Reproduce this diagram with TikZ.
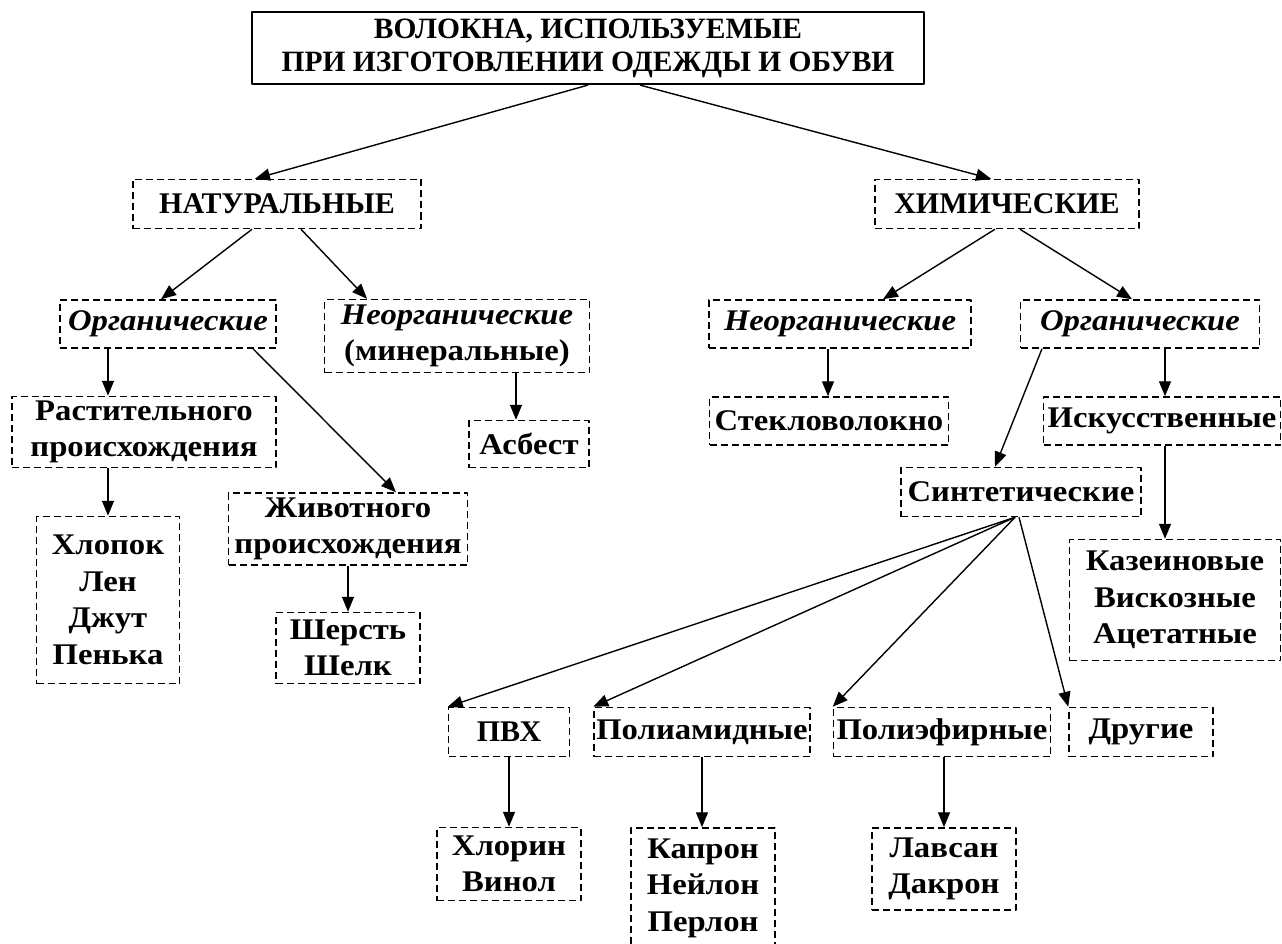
\documentclass[tikz,border=0pt]{standalone}
\usepackage{fontspec}
\setmainfont{Liberation Serif}
\newfontfamily\wideserif[FakeStretch=1.09]{Liberation Serif}
\usetikzlibrary{arrows.meta}
\tikzset{
	box/.style={draw, line width=1.5pt, dash pattern=on 7pt off 4pt, inner sep=2pt, align=center},
	capsbox/.style={box, font=\fontsize{30}{34}\selectfont\bfseries},
	titlebox/.style={draw, line width=2.2pt, inner sep=2pt, align=center, font=\fontsize{29.5}{33}\selectfont\bfseries},
	link/.style={->, line width=1.4pt},
}
\begin{document}
\begin{tikzpicture}[x=1pt, y=-1pt, font=\fontsize{30}{36.5}\selectfont\bfseries\wideserif, line join=round, >={Triangle[length=15pt,width=12pt]}]
			\useasboundingbox (0,0) rectangle (1282,944);
			% top
			\node[titlebox, minimum width=672, minimum height=72] (title) at (588,48) {ВОЛОКНА, ИСПОЛЬЗУЕМЫЕ\\ПРИ ИЗГОТОВЛЕНИИ ОДЕЖДЫ И ОБУВИ};
			\node[capsbox, minimum width=288, minimum height=49] (nat) at (277,204) {НАТУРАЛЬНЫЕ};
			\node[capsbox, minimum width=264, minimum height=49] (chem) at (1007,204) {ХИМИЧЕСКИЕ};
			% natural branch
			\node[box, minimum width=216, minimum height=48] (orgL) at (168,324) {\itshape Органические};
			\node[box, minimum width=265, minimum height=73] (inorgL) at (457,336) {\textit{Неорганические}\\(минеральные)};
			\node[box, minimum width=264, minimum height=71] (rast) at (144,432) {Растительного\\происхождения};
			\node[box, minimum width=120, minimum height=47] (asb) at (529,444) {Асбест};
			\node[box, minimum width=239, minimum height=72] (zhiv) at (348,529) {Животного\\происхождения};
			\node[box, minimum width=143, minimum height=167] (khlop) at (108,600) {Хлопок\\Лен\\Джут\\Пенька};
			\node[box, minimum width=144, minimum height=71] (sher) at (348,648) {Шерсть\\Шелк};
			% chemical branch
			\node[box, minimum width=262, minimum height=48] (inorgR) at (840,324) {\itshape Неорганические};
			\node[box, minimum width=239, minimum height=48] (orgR) at (1140,324) {\itshape Органические};
			\node[box, minimum width=239, minimum height=48] (stek) at (829,421) {Стекловолокно};
			\node[box, minimum width=237, minimum height=48] (isk) at (1162,421) {Искусственные};
			\node[box, minimum width=240, minimum height=49] (sint) at (1021,492) {Синтетические};
			\node[box, minimum width=211, minimum height=121] (kaz) at (1175,600) {Казеиновые\\Вискозные\\Ацетатные};
			% synthetic
			\node[capsbox, minimum width=121, minimum height=49] (pvh) at (509,732) {ПВХ};
			\node[box, minimum width=216, minimum height=49] (pam) at (702,732) {Полиамидные};
			\node[box, minimum width=217, minimum height=49] (pef) at (942,732) {Полиэфирные};
			\node[box, minimum width=144, minimum height=49] (drug) at (1141,732) {Другие};
			\node[box, minimum width=144, minimum height=73] (khlor) at (509,864) {Хлорин\\Винол};
			\node[box, minimum width=144, minimum height=120] (kap) at (703,888) {Капрон\\Нейлон\\Перлон};
			\node[box, minimum width=144, minimum height=82] (lav) at (944,869) {Лавсан\\Дакрон};
			% links
			\draw[link] (title.south) -- ([xshift=-22pt]nat.north);
			\draw[link] ([xshift=52pt]title.south) -- ([xshift=-16pt]chem.north);
			\draw[link] ([xshift=-25pt]nat.south) -- ([xshift=-7pt]orgL.north);
			\draw[link] ([xshift=24pt]nat.south) -- ([xshift=-90pt]inorgL.north);
			\draw[link] ([xshift=-12pt]chem.south) -- ([xshift=43pt]inorgR.north);
			\draw[link] ([xshift=13pt]chem.south) -- ([xshift=-8pt]orgR.north);
			\draw[link] ([xshift=-60pt]orgL.south) -- ([xshift=-36pt]rast.north);
			\draw[link] ([xshift=85pt]orgL.south) -- ([xshift=48pt]zhiv.north);
			\draw[link] ([xshift=59pt]inorgL.south) -- ([xshift=-13pt]asb.north);
			\draw[link] ([xshift=-36pt]rast.south) -- (khlop.north);
			\draw[link] (zhiv.south) -- (sher.north);
			\draw[link] ([xshift=-12pt]inorgR.south) -- ([xshift=-1pt]stek.north);
			\draw[link] ([xshift=-98pt]orgR.south) -- ([xshift=-26pt]sint.north);
			\draw[link] ([xshift=25pt]orgR.south) -- ([xshift=3pt]isk.north);
			\draw[link] ([xshift=3pt]isk.south) -- ([xshift=-10pt]kaz.north);
			\draw[link] ([xshift=-6pt]sint.south) -- (pvh.north west);
			\draw[link] ([xshift=-6pt]sint.south) -- (pam.north west);
			\draw[link] ([xshift=-6pt]sint.south) -- (pef.north west);
			\draw[link] ([xshift=-2pt]sint.south) -- (drug.north west);
			\draw[link] (pvh.south) -- (khlor.north);
			\draw[link] (pam.south) -- ([xshift=-1pt]kap.north);
			\draw[link] ([xshift=2pt]pef.south) -- (lav.north);
		\end{tikzpicture}
\end{document}
